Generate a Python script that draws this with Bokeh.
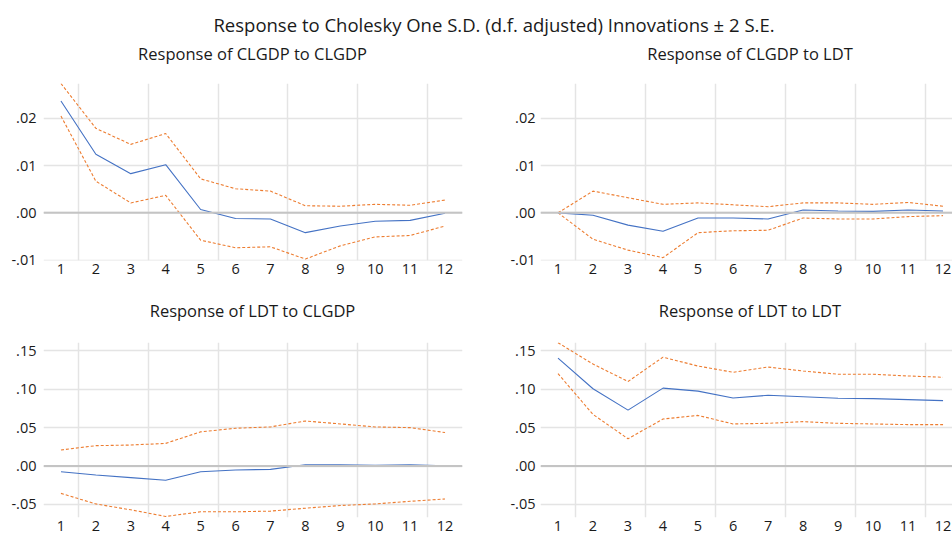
from bokeh.plotting import figure
from bokeh.layouts import column, row
from bokeh.models import Div, FixedTicker, Span
from bokeh.embed import file_html
from bokeh.resources import INLINE

periods = list(range(1, 13))

# Response of CLGDP to CLGDP
clgdp_clgdp = [0.0237, 0.0124, 0.0083, 0.0102, 0.0007, -0.0012, -0.0013, -0.0042, -0.0028, -0.0018, -0.0016, -0.0001]
clgdp_clgdp_up = [0.0274, 0.0179, 0.0145, 0.0168, 0.0072, 0.0051, 0.0046, 0.0015, 0.0014, 0.0018, 0.0016, 0.0027]
clgdp_clgdp_lo = [0.0205, 0.0067, 0.0021, 0.0037, -0.0058, -0.0074, -0.0072, -0.0098, -0.0070, -0.0051, -0.0048, -0.0028]

# Response of CLGDP to LDT
clgdp_ldt = [0.0, -0.0005, -0.0026, -0.0039, -0.0011, -0.0011, -0.0013, 0.0006, 0.0004, 0.0003, 0.0006, 0.0004]
clgdp_ldt_up = [0.0, 0.0046, 0.0032, 0.0018, 0.0021, 0.0017, 0.0013, 0.0021, 0.0021, 0.0018, 0.0022, 0.0014]
clgdp_ldt_lo = [0.0, -0.0056, -0.0079, -0.0095, -0.0042, -0.0038, -0.0037, -0.0011, -0.0013, -0.0013, -0.0008, -0.0006]

# Response of LDT to CLGDP
ldt_clgdp = [-0.0073, -0.0116, -0.0150, -0.0184, -0.0073, -0.0051, -0.0043, 0.0017, 0.0017, 0.0009, 0.0017, 0.0004]
ldt_clgdp_up = [0.0210, 0.0266, 0.0274, 0.0296, 0.0446, 0.0493, 0.0510, 0.0587, 0.0549, 0.0510, 0.0501, 0.0437]
ldt_clgdp_lo = [-0.0356, -0.0493, -0.0570, -0.0656, -0.0596, -0.0596, -0.0587, -0.0549, -0.0514, -0.0493, -0.0459, -0.0429]

# Response of LDT to LDT
ldt_ldt = [0.1406, 0.1007, 0.0729, 0.1016, 0.0977, 0.0887, 0.0922, 0.0904, 0.0883, 0.0879, 0.0866, 0.0853]
ldt_ldt_up = [0.1607, 0.1329, 0.1102, 0.1419, 0.1303, 0.1222, 0.1290, 0.1239, 0.1196, 0.1196, 0.1174, 0.1157]
ldt_ldt_lo = [0.1204, 0.0673, 0.0356, 0.0613, 0.0660, 0.0549, 0.0557, 0.0579, 0.0557, 0.0549, 0.0540, 0.0540]

top_ticks = [-0.01, 0.0, 0.01, 0.02]
top_labels = ["-.01", ".00", ".01", ".02"]
bot_ticks = [-0.05, 0.0, 0.05, 0.10, 0.15]
bot_labels = ["-.05", ".00", ".05", ".10", ".15"]
xgrid_pos = [1.5, 3.5, 5.5, 7.5, 9.5, 11.5]

main_title = "Response to Cholesky One S.D. (d.f. adjusted) Innovations \u00b1 2 S.E."
titles = ["Response of CLGDP to CLGDP", "Response of CLGDP to LDT",
          "Response of LDT to CLGDP", "Response of LDT to LDT"]

FONT = "Open Sans"
BLUE = "#4472c4"
ORANGE = "#ed7d31"
TEXT = "#1a1a1a"

LEFT_W = 490
RIGHT_W = 462


def panel(resp, up, lo, xrange, yrange, ticks, labels, frame_w, frame_h, left, right, top, bottom, ystand):
    p = figure(frame_width=frame_w, frame_height=frame_h,
               min_border_left=left, min_border_right=right,
               min_border_top=top, min_border_bottom=bottom,
               x_range=xrange, y_range=yrange,
               output_backend="svg", toolbar_location=None)
    p.outline_line_color = None
    p.background_fill_color = "white"
    p.border_fill_color = "white"

    p.xaxis.ticker = FixedTicker(ticks=periods)
    p.xaxis.axis_line_color = None
    p.xaxis.major_tick_line_color = None
    p.xaxis.minor_tick_line_color = None
    p.xaxis.major_tick_out = 0
    p.xaxis.major_label_standoff = 3
    p.xaxis.major_label_text_font = FONT
    p.xaxis.major_label_text_font_size = "14.5px"
    p.xaxis.major_label_text_color = TEXT

    p.yaxis.ticker = FixedTicker(ticks=ticks)
    p.yaxis.major_label_overrides = {t: l for t, l in zip(ticks, labels)}
    p.yaxis.axis_line_color = None
    p.yaxis.major_tick_line_color = None
    p.yaxis.minor_tick_line_color = None
    p.yaxis.major_tick_out = 0
    p.yaxis.major_label_standoff = ystand
    p.yaxis.major_label_text_font = FONT
    p.yaxis.major_label_text_font_size = "14.5px"
    p.yaxis.major_label_text_color = TEXT

    p.xgrid.ticker = FixedTicker(ticks=xgrid_pos)
    p.xgrid.grid_line_color = "#e4e4e4"
    p.xgrid.grid_line_width = 1.5
    p.ygrid.ticker = FixedTicker(ticks=ticks)
    p.ygrid.grid_line_color = "#e4e4e4"
    p.ygrid.grid_line_width = 1.5

    zero = Span(location=0, dimension="width", line_color="#c4c4c4", line_width=2)
    p.add_layout(zero)

    p.line(periods, up, line_color=ORANGE, line_width=1.1, line_dash="3 2")
    p.line(periods, lo, line_color=ORANGE, line_width=1.1, line_dash="3 2")
    p.line(periods, resp, line_color=BLUE, line_width=1.1)
    return p


def sub_div(text, width, pad_left, pad_right, pad_top, height):
    html = ('<div style="width:%dpx;box-sizing:border-box;padding-left:%dpx;padding-right:%dpx;'
            'padding-top:%dpx;text-align:center;font-family:\'Open Sans\';font-size:16.5px;'
            'color:#1a1a1a;line-height:28px;white-space:nowrap;">%s</div>'
            % (width, pad_left, pad_right, pad_top, text))
    return Div(text=html, width=width, height=height, margin=(0, 0, 0, 0))


left_xr = (0.5, 12.5)
right_xr = (0.5, 12.27)
top_yr = (-0.0101, 0.0274)
bot_yr = (-0.067, 0.161)

p1 = panel(clgdp_clgdp, clgdp_clgdp_up, clgdp_clgdp_lo, left_xr,
           top_yr, top_ticks, top_labels, 419, 177, 43, 28, 15, 28, 7)
p2 = panel(clgdp_ldt, clgdp_ldt_up, clgdp_ldt_lo, right_xr,
           top_yr, top_ticks, top_labels, 412, 177, 50, 0, 15, 28, 5)
p3 = panel(ldt_clgdp, ldt_clgdp_up, ldt_clgdp_lo, left_xr,
           bot_yr, bot_ticks, bot_labels, 419, 175, 43, 28, 20, 20, 7)
p4 = panel(ldt_ldt, ldt_ldt_up, ldt_ldt_lo, right_xr,
           bot_yr, bot_ticks, bot_labels, 412, 175, 50, 0, 20, 20, 5)

title_div = Div(
    text=('<div style="width:952px;box-sizing:border-box;padding-left:36px;padding-top:12px;text-align:center;'
          'font-family:\'Open Sans\';font-size:18.5px;color:#1a1a1a;line-height:26px;white-space:nowrap;">'
          + main_title + '</div>'),
    width=952, height=34, margin=(0, 0, 0, 0))

s1 = sub_div(titles[0], LEFT_W, 43, 28, 6, 34)
s2 = sub_div(titles[1], RIGHT_W, 58, 0, 6, 34)
s3 = sub_div(titles[2], LEFT_W, 43, 28, 9, 34)
s4 = sub_div(titles[3], RIGHT_W, 58, 0, 9, 34)

layout = column(title_div, row(s1, s2), row(p1, p2), row(s3, s4), row(p3, p4))

open("out.html", "w").write(file_html(layout, INLINE))
